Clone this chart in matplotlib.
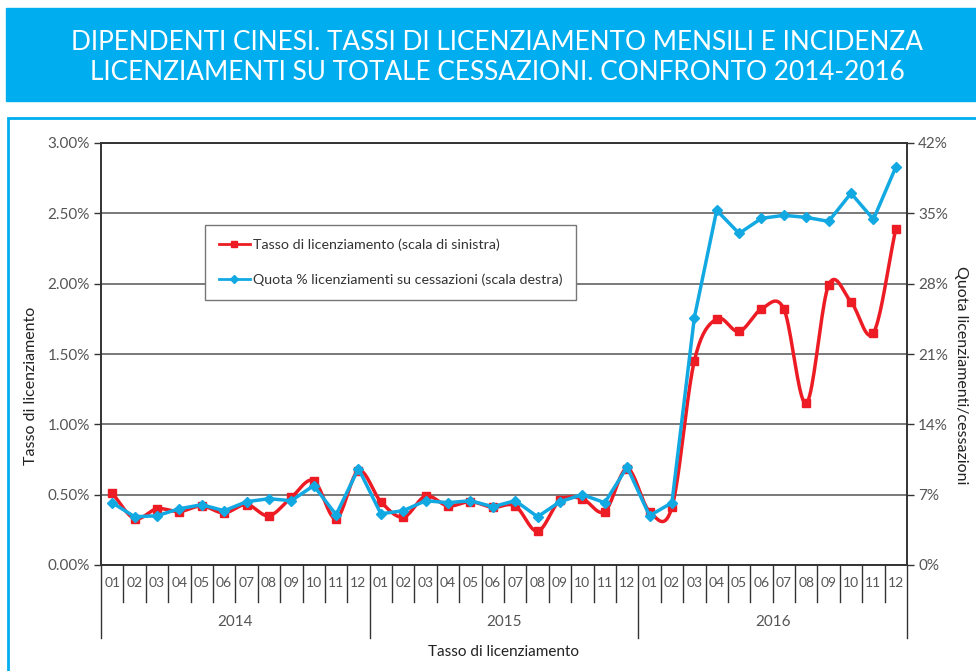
"""Dipendenti cinesi: tassi di licenziamento mensili e quota su cessazioni, 2014-2016."""
import matplotlib
matplotlib.use("Agg")
import matplotlib.pyplot as plt
import numpy as np
from matplotlib.lines import Line2D
from matplotlib.patches import Rectangle
from matplotlib.ticker import FuncFormatter

plt.rcParams["font.family"] = ["Lato", "DejaVu Sans"]

years = ["2014", "2015", "2016"]
months = ["01", "02", "03", "04", "05", "06", "07", "08", "09", "10", "11", "12"]

# tasso di licenziamento (%), scala sinistra
tasso = [0.51, 0.33, 0.40, 0.38, 0.42, 0.37, 0.43, 0.35, 0.48, 0.60, 0.33, 0.67,
         0.45, 0.34, 0.49, 0.42, 0.45, 0.41, 0.42, 0.24, 0.46, 0.47, 0.38, 0.685,
         0.38, 0.41, 1.45, 1.75, 1.66, 1.82, 1.82, 1.15, 1.99, 1.87, 1.65, 2.39]
# quota % licenziamenti su cessazioni, scala destra
quota = [6.2, 4.8, 4.9, 5.6, 6.0, 5.4, 6.3, 6.6, 6.4, 7.9, 5.0, 9.6,
         5.1, 5.4, 6.4, 6.2, 6.4, 5.8, 6.4, 4.8, 6.3, 7.0, 6.2, 9.75,
         4.9, 6.2, 24.6, 35.3, 33.0, 34.5, 34.8, 34.6, 34.2, 37.0, 34.4, 39.6]

RED = "#ED1C24"
BLUE = "#12A9E3"
GRID = "#6e6e6e"
TXT = "#555555"


def smooth(x, y, n=20):
    # Catmull-Rom, like the "smoothed line" option of the spreadsheet
    x = np.asarray(x, float)
    y = np.asarray(y, float)
    px = np.concatenate([[2 * x[0] - x[1]], x, [2 * x[-1] - x[-2]]])
    py = np.concatenate([[2 * y[0] - y[1]], y, [2 * y[-1] - y[-2]]])
    t = np.linspace(0, 1, n, endpoint=False)
    xs, ys = [], []
    for i in range(1, len(px) - 2):
        for p, out in ((px, xs), (py, ys)):
            p0, p1, p2, p3 = p[i - 1], p[i], p[i + 1], p[i + 2]
            out.extend(0.5 * (2 * p1 + (-p0 + p2) * t
                              + (2 * p0 - 5 * p1 + 4 * p2 - p3) * t ** 2
                              + (-p0 + 3 * p1 - 3 * p2 + p3) * t ** 3))
    xs.append(x[-1])
    ys.append(y[-1])
    return xs, ys


fig = plt.figure(figsize=(9.76, 6.71), dpi=100)

# title banner and frame
fig.patches.append(Rectangle((6 / 976, 1 - 101 / 671), 1, 93 / 671,
                             transform=fig.transFigure, color="#00AEEF", zorder=0))
fig.patches.append(Rectangle((8 / 976, -0.1), 1.2, 1.1 - 118 / 671,
                             transform=fig.transFigure, fill=False,
                             edgecolor="#00AEEF", lw=2, zorder=0))
fig.text(497 / 976, 1 - 42 / 671,
         "DIPENDENTI CINESI. TASSI DI LICENZIAMENTO MENSILI E INCIDENZA",
         color="white", fontsize=18.8, ha="center", va="center")
fig.text(497 / 976, 1 - 72 / 671,
         "LICENZIAMENTI SU TOTALE CESSAZIONI. CONFRONTO 2014-2016",
         color="white", fontsize=18.8, ha="center", va="center")

ax = fig.add_axes([101 / 976, 106 / 671, 806 / 976, 422 / 671])
ax2 = ax.twinx()
n = len(tasso)
x = np.arange(n)

ax.set_ylim(0, 3.0)
ax.set_yticks(np.arange(0, 3.01, 0.5))
ax.yaxis.set_major_formatter(FuncFormatter(lambda v, p: f"{v:.2f}%"))
ax.grid(axis="y", color=GRID, lw=1.3)
ax.set_axisbelow(True)
ax.set_xlim(-0.5, n - 0.5)
ax.set_xticks([])
ax2.set_ylim(0, 42)
ax2.set_yticks(np.arange(0, 43, 7))
ax2.yaxis.set_major_formatter(FuncFormatter(lambda v, p: f"{v:.0f}%"))

for a in (ax, ax2):
    a.tick_params(axis="y", length=5, width=1, colors="#333333", labelcolor=TXT,
                  labelsize=11, pad=3)
    for s in a.spines.values():
        s.set_color("#333333")
        s.set_linewidth(1.2)

sx, sy = smooth(x, tasso)
ax.plot(sx, sy, color=RED, lw=2.5, zorder=3)
ax.plot(x, tasso, ls="none", marker="s", ms=6, color=RED, zorder=4)
ax2.plot(x, quota, color=BLUE, lw=2.5, marker="D", ms=5, zorder=5)

# category axis: months boxes and years
h = 422
for i in range(n + 1):
    long = i % 12 == 0
    ax.plot([i - 0.5, i - 0.5], [0, -(73 if long else 37) / h],
            transform=ax.get_xaxis_transform(), color="#333333", lw=1,
            clip_on=False)
for i in range(n):
    ax.text(i, -18 / h, months[i % 12], transform=ax.get_xaxis_transform(),
            ha="center", va="center", fontsize=10, color=TXT)
for k, yr in enumerate(years):
    ax.text(12 * k + 5.5, -57 / h, yr, transform=ax.get_xaxis_transform(),
            ha="center", va="center", fontsize=11, color=TXT)
ax.text(0.5, -87 / h, "Tasso di licenziamento", transform=ax.transAxes,
        ha="center", va="center", fontsize=11, color="#222222")

fig.text(31 / 976, 1 - 386 / 671, "Tasso di licenziamento", rotation=90,
         ha="center", va="center", fontsize=11.5, color="#222222")
fig.text(961 / 976, 1 - 375 / 671, "Quota licenziamenti/cessazioni", rotation=-90,
         ha="center", va="center", fontsize=11.5, color="#222222")

handles = [Line2D([], [], color=RED, lw=2, marker="s", ms=5),
           Line2D([], [], color=BLUE, lw=2, marker="D", ms=4)]
leg = ax2.legend(handles, ["Tasso di licenziamento (scala di sinistra)",
                           "Quota % licenziamenti su cessazioni (scala destra)"],
                 loc="upper left", bbox_to_anchor=(0.129, 0.806), fontsize=10.3,
                 frameon=True, fancybox=False, framealpha=1, edgecolor="#777777",
                 labelspacing=1.6, handlelength=2.2, handletextpad=0.2,
                 borderpad=0.95, borderaxespad=0, numpoints=1)
for t in leg.get_texts():
    t.set_color("#333333")
leg.set_zorder(10)

fig.savefig("out.png", dpi=100)
